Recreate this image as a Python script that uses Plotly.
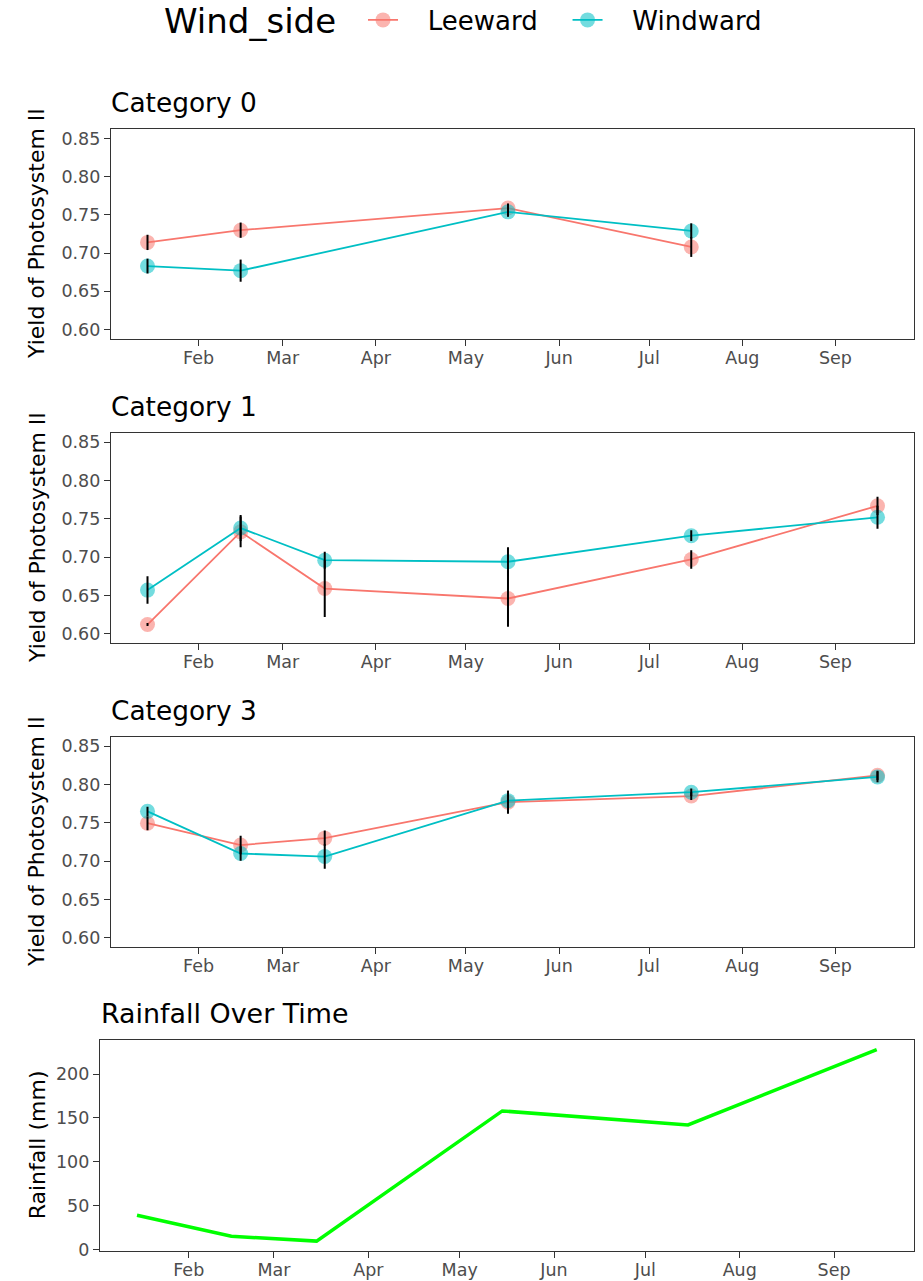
import plotly.graph_objects as go
import pandas as pd

# ---------------- data ----------------
dates = ["2023-01-15", "2023-02-15", "2023-03-15", "2023-05-15", "2023-07-15", "2023-09-15"]
month_ticks = ["2023-02-01", "2023-03-01", "2023-04-01", "2023-05-01",
               "2023-06-01", "2023-07-01", "2023-08-01", "2023-09-01"]
month_labels = ["Feb", "Mar", "Apr", "May", "Jun", "Jul", "Aug", "Sep"]

categories = ["Category 0", "Category 1", "Category 3"]
sides = ["Leeward", "Windward"]

cat0_leeward = [0.714, 0.730, None, 0.759, 0.708, None]
cat0_leeward_err = [0.010, 0.010, None, 0.006, 0.013, None]
cat0_windward = [0.683, 0.677, None, 0.754, 0.729, None]
cat0_windward_err = [0.0097, 0.0145, None, 0.0065, 0.010, None]

cat1_leeward = [0.612, 0.733, 0.659, 0.646, 0.697, 0.767]
cat1_leeward_err = [0.002, 0.020, 0.037, 0.037, 0.012, 0.012]
cat1_windward = [0.657, 0.738, 0.696, 0.694, 0.728, 0.752]
cat1_windward_err = [0.018, 0.017, 0.011, 0.019, 0.007, 0.015]

cat3_leeward = [0.7495, 0.721, 0.730, 0.777, 0.785, 0.812]
cat3_leeward_err = [0.009, 0.012, 0.010, 0.015, 0.005, 0.006]
cat3_windward = [0.765, 0.710, 0.706, 0.779, 0.790, 0.810]
cat3_windward_err = [0.006, 0.0095, 0.016, 0.013, 0.005, 0.007]

rainfall = [39, 15, 9.5, 158, 142, 228]

yield_ticks = [0.60, 0.65, 0.70, 0.75, 0.80, 0.85]
rain_ticks = [0, 50, 100, 150, 200]

# ---------------- style ----------------
W, H = 923, 1281
FONT = "DejaVu Sans"
COLORS = {"Leeward": "#F8766D", "Windward": "#00BFC4"}
TICK_COLOR = "#4D4D4D"
LINE_COLOR = "#333333"
NBSP = "\u00a0"


def fx(px):
    return px / W


def fy(py):
    return 1 - py / H


series = [
    (cat0_leeward, cat0_leeward_err, cat0_windward, cat0_windward_err),
    (cat1_leeward, cat1_leeward_err, cat1_windward, cat1_windward_err),
    (cat3_leeward, cat3_leeward_err, cat3_windward, cat3_windward_err),
]

panel_boxes = [(129, 339), (432.7, 643.3), (736.7, 947.3)]
panel_x = (111, 914)
rain_box = (1040, 1250.7)
rain_x = (100, 913.7)

d = pd.to_datetime(dates)
span = d.max() - d.min()
x_range = [(d.min() - span * 0.05).strftime("%Y-%m-%d %H:%M"),
           (d.max() + span * 0.05).strftime("%Y-%m-%d %H:%M")]
y_lo, y_hi = min(yield_ticks), max(yield_ticks)
y_range = [y_lo - 0.05 * (y_hi - y_lo), y_hi + 0.05 * (y_hi - y_lo)]
r_lo, r_hi = min(rainfall), max(rainfall)
r_range = [r_lo - 0.05 * (r_hi - r_lo), r_hi + 0.05 * (r_hi - r_lo)]

fig = go.Figure()

for i, (lee, lee_e, win, win_e) in enumerate(series):
    xa = "x" if i == 0 else f"x{i+1}"
    ya = "y" if i == 0 else f"y{i+1}"
    for side, vals in (("Leeward", lee), ("Windward", win)):
        fig.add_trace(go.Scatter(
            x=dates, y=vals, mode="lines+markers", name=NBSP * 3 + side + NBSP * 3,
            legendgroup=side, showlegend=(i == 0), connectgaps=True,
            line=dict(color=COLORS[side], width=1.8),
            marker=dict(color=COLORS[side], size=15, opacity=0.55, line=dict(width=0)),
            xaxis=xa, yaxis=ya, hoverinfo="skip",
        ))
    for side, vals, errs in (("Leeward", lee, lee_e), ("Windward", win, win_e)):
        fig.add_trace(go.Scatter(
            x=dates, y=vals, mode="markers", showlegend=False,
            marker=dict(size=1, opacity=0),
            error_y=dict(type="data", array=errs, visible=True, color="black",
                         thickness=2, width=0),
            xaxis=xa, yaxis=ya, hoverinfo="skip",
        ))

fig.add_trace(go.Scatter(
    x=dates, y=rainfall, mode="lines", showlegend=False,
    line=dict(color="#00FF00", width=3.5),
    xaxis="x4", yaxis="y4", hoverinfo="skip",
))

axis_common = dict(
    showgrid=False, zeroline=False, showline=True, mirror=True,
    linecolor=LINE_COLOR, linewidth=1.2, ticks="outside", ticklen=6,
    tickwidth=1.2, tickcolor=LINE_COLOR, automargin=False,
    tickfont=dict(family=FONT, size=17.5, color=TICK_COLOR),
)

layout = dict(
    width=W, height=H, autosize=False,
    margin=dict(l=0, r=0, t=0, b=0, pad=0, autoexpand=False),
    paper_bgcolor="white", plot_bgcolor="white",
    font=dict(family=FONT, color="black"),
    legend=dict(
        orientation="h", x=fx(363), xanchor="left", y=fy(20), yanchor="middle",
        font=dict(family=FONT, size=26, color="black"),
        tracegroupgap=0,
    ),
)

annotations = [dict(
    text="Wind_side", x=fx(162), y=fy(21), xref="paper", yref="paper",
    xanchor="left", yanchor="middle", showarrow=False,
    font=dict(family=FONT, size=34, color="black"),
)]
for i, (top, bot) in enumerate(panel_boxes):
    sx = "" if i == 0 else str(i + 1)
    layout[f"xaxis{sx}"] = dict(
        axis_common, type="date", range=x_range, domain=[fx(panel_x[0]), fx(panel_x[1])],
        anchor=f"y{sx}", tickvals=month_ticks, ticktext=month_labels, ticklabelstandoff=-3,
    )
    layout[f"yaxis{sx}"] = dict(
        axis_common, range=y_range, domain=[fy(bot), fy(top)], anchor=f"x{sx}",
        tickvals=yield_ticks, tickformat=".2f",
    )
    annotations.append(dict(
        text=categories[i], x=fx(109), y=fy(top - 26.5), xref="paper", yref="paper",
        xanchor="left", yanchor="middle", showarrow=False,
        font=dict(family=FONT, size=26.4, color="black"),
    ))
    annotations.append(dict(
        text="Yield of Photosystem II", x=fx(37), y=fy((top + bot) / 2),
        xref="paper", yref="paper", xanchor="center", yanchor="middle",
        textangle=-90, showarrow=False,
        font=dict(family=FONT, size=22, color="black"),
    ))

layout["xaxis4"] = dict(
    axis_common, type="date", range=x_range, domain=[fx(rain_x[0]), fx(rain_x[1])],
    anchor="y4", tickvals=month_ticks, ticktext=month_labels, ticklabelstandoff=-3,
)
layout["yaxis4"] = dict(
    axis_common, range=r_range, domain=[fy(rain_box[1]), fy(rain_box[0])], anchor="x4",
    tickvals=rain_ticks,
)
annotations.append(dict(
    text="Rainfall Over Time", x=fx(99), y=fy(1013), xref="paper", yref="paper",
    xanchor="left", yanchor="middle", showarrow=False,
    font=dict(family=FONT, size=26.9, color="black"),
))
annotations.append(dict(
    text="Rainfall (mm)", x=fx(37), y=fy(sum(rain_box) / 2), xref="paper", yref="paper",
    xanchor="center", yanchor="middle", textangle=-90, showarrow=False,
    font=dict(family=FONT, size=22, color="black"),
))
layout["annotations"] = annotations

fig.update_layout(**layout)
fig.write_html(
    "out.html",
    config={"displayModeBar": False},
    post_script="document.body.style.margin='0';document.documentElement.style.overflow='hidden';",
)
